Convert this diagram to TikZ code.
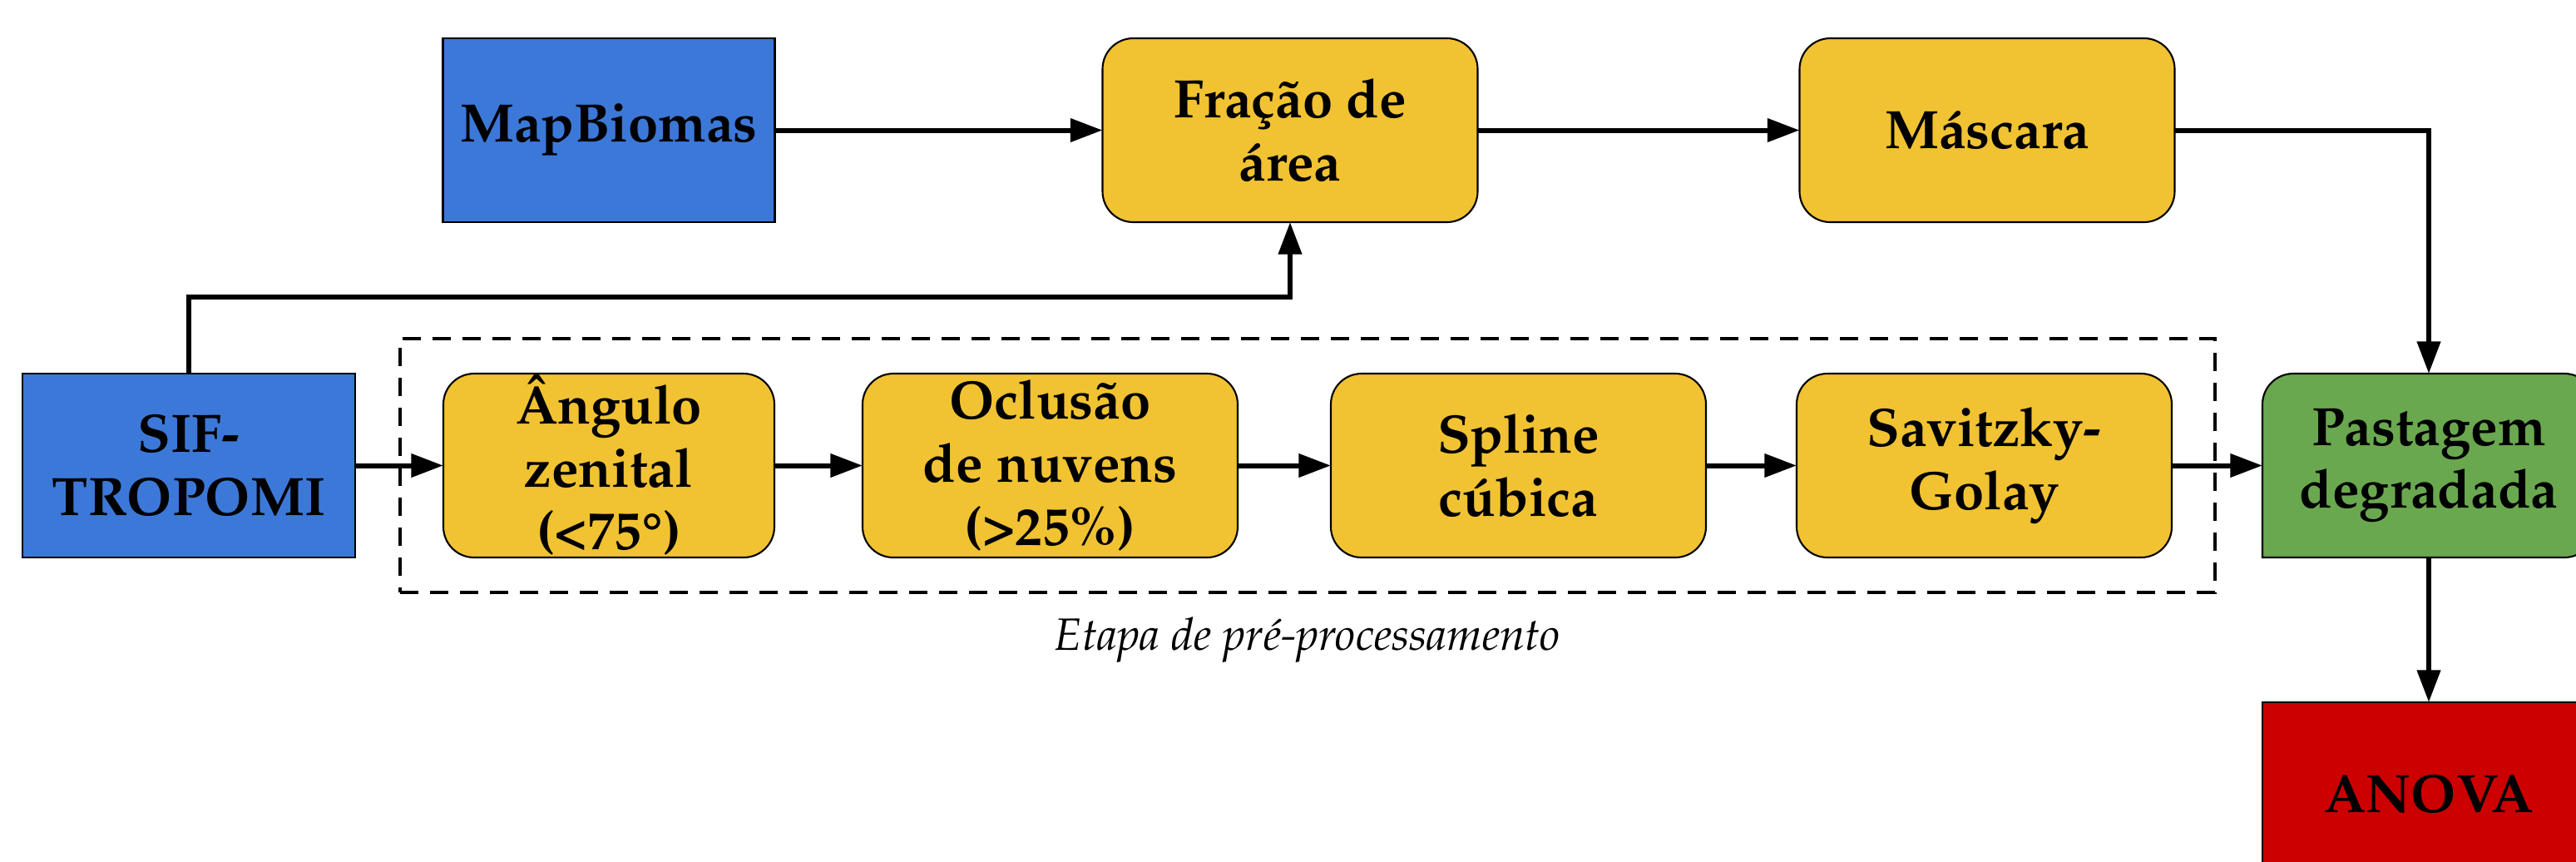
\documentclass[tikz,border=0pt]{standalone}
\usepackage[T1]{fontenc}
\usepackage{mathpazo}
\usepackage{xcolor}
\usepackage{tikz}
\usetikzlibrary{arrows.meta,positioning,fit,backgrounds}

\definecolor{bluebox}{HTML}{3C78D8}
\definecolor{yellowbox}{HTML}{F1C232}
\definecolor{greenbox}{HTML}{6AA84F}
\definecolor{redbox}{HTML}{CC0000}
\newcommand{\boxfont}{\fontsize{18.5}{21.6}\selectfont\bfseries}

\begin{document}
\begin{tikzpicture}[
    box/.style={rectangle, draw, line width=0.6pt, inner sep=0pt, outer sep=0pt, minimum height=2.21cm, font=\boxfont, align=center},
    sourcebox/.style={box, fill=bluebox, minimum width=4cm},
    stepbox/.style={box, fill=yellowbox, rounded corners=0.37cm, minimum width=4.51cm},
    arrow/.style={-{Triangle[length=11pt, width=7.8pt]}, line width=1.7pt}
]
    \useasboundingbox (0,0) rectangle (30.97,-10.35);

    % Bottom row
    \node[sourcebox] (sif) at (2.27,-5.595) {SIF-\\TROPOMI};
    \node[stepbox, minimum width=3.98cm, right=1.06cm of sif] (angulo) {\^Angulo\\zenital\\(<75\textdegree)};
    \node[stepbox, right=1.06cm of angulo] (oclusao) {Oclus\~ao\\de nuvens\\(>25\%)};
    \node[stepbox, right=1.12cm of oclusao] (spline) {Spline\\c\'ubica};
    \node[stepbox, right=1.09cm of spline] (savitzky) {Savitzky-\\Golay};
    \node[box, draw=none, minimum width=4cm, right=1.09cm of savitzky] (pastagem) {Pastagem\\degradada};
    \node[box, fill=redbox, minimum width=4cm, below=1.74cm of pastagem] (anova) {ANOVA};

    % Top row
    \node[sourcebox, minimum width=3.99cm, above=1.82cm of angulo] (mapbiomas) {MapBiomas};
    \node[stepbox, right=3.94cm of mapbiomas] (fracao) {Fra\c{c}\~ao de\\\'area};
    \node[stepbox, right=3.87cm of fracao] (mascara) {M\'ascara};

    % Output box, only the bottom left corner is square
    \begin{scope}[on background layer]
        \draw[line width=0.6pt, fill=greenbox] (pastagem.south west) -- ([xshift=-0.37cm]pastagem.south east)
            arc[start angle=-90, end angle=0, radius=0.37cm] -- ([yshift=-0.37cm]pastagem.north east)
            arc[start angle=0, end angle=90, radius=0.37cm] -- ([xshift=0.37cm]pastagem.north west)
            arc[start angle=90, end angle=180, radius=0.37cm] -- cycle;
    \end{scope}

    % Pre-processing stage
    \node[draw, dashed, dash pattern=on 0.22cm off 0.14cm, line width=1pt, inner xsep=0.52cm, inner ysep=0.42cm, fit=(angulo)(oclusao)(savitzky)] (stage) {};
    \node[font=\fontsize{15.5}{18}\selectfont\itshape, below=0.16cm of stage] (stagelabel) {Etapa de pr\'e-processamento};

    % Arrows
    \coordinate[below=0.9cm of fracao.south] (corner);
    \draw[arrow] (mapbiomas) -- (fracao);
    \draw[arrow] (fracao) -- (mascara);
    \draw[arrow] (sif.north) |- (corner) -- (fracao.south);
    \draw[arrow] (mascara.east) -| (pastagem.north);
    \draw[arrow] (sif) -- (angulo);
    \draw[arrow] (angulo) -- (oclusao);
    \draw[arrow] (oclusao) -- (spline);
    \draw[arrow] (spline) -- (savitzky);
    \draw[arrow] (savitzky) -- (pastagem);
    \draw[arrow] (pastagem) -- (anova);
\end{tikzpicture}
\end{document}
